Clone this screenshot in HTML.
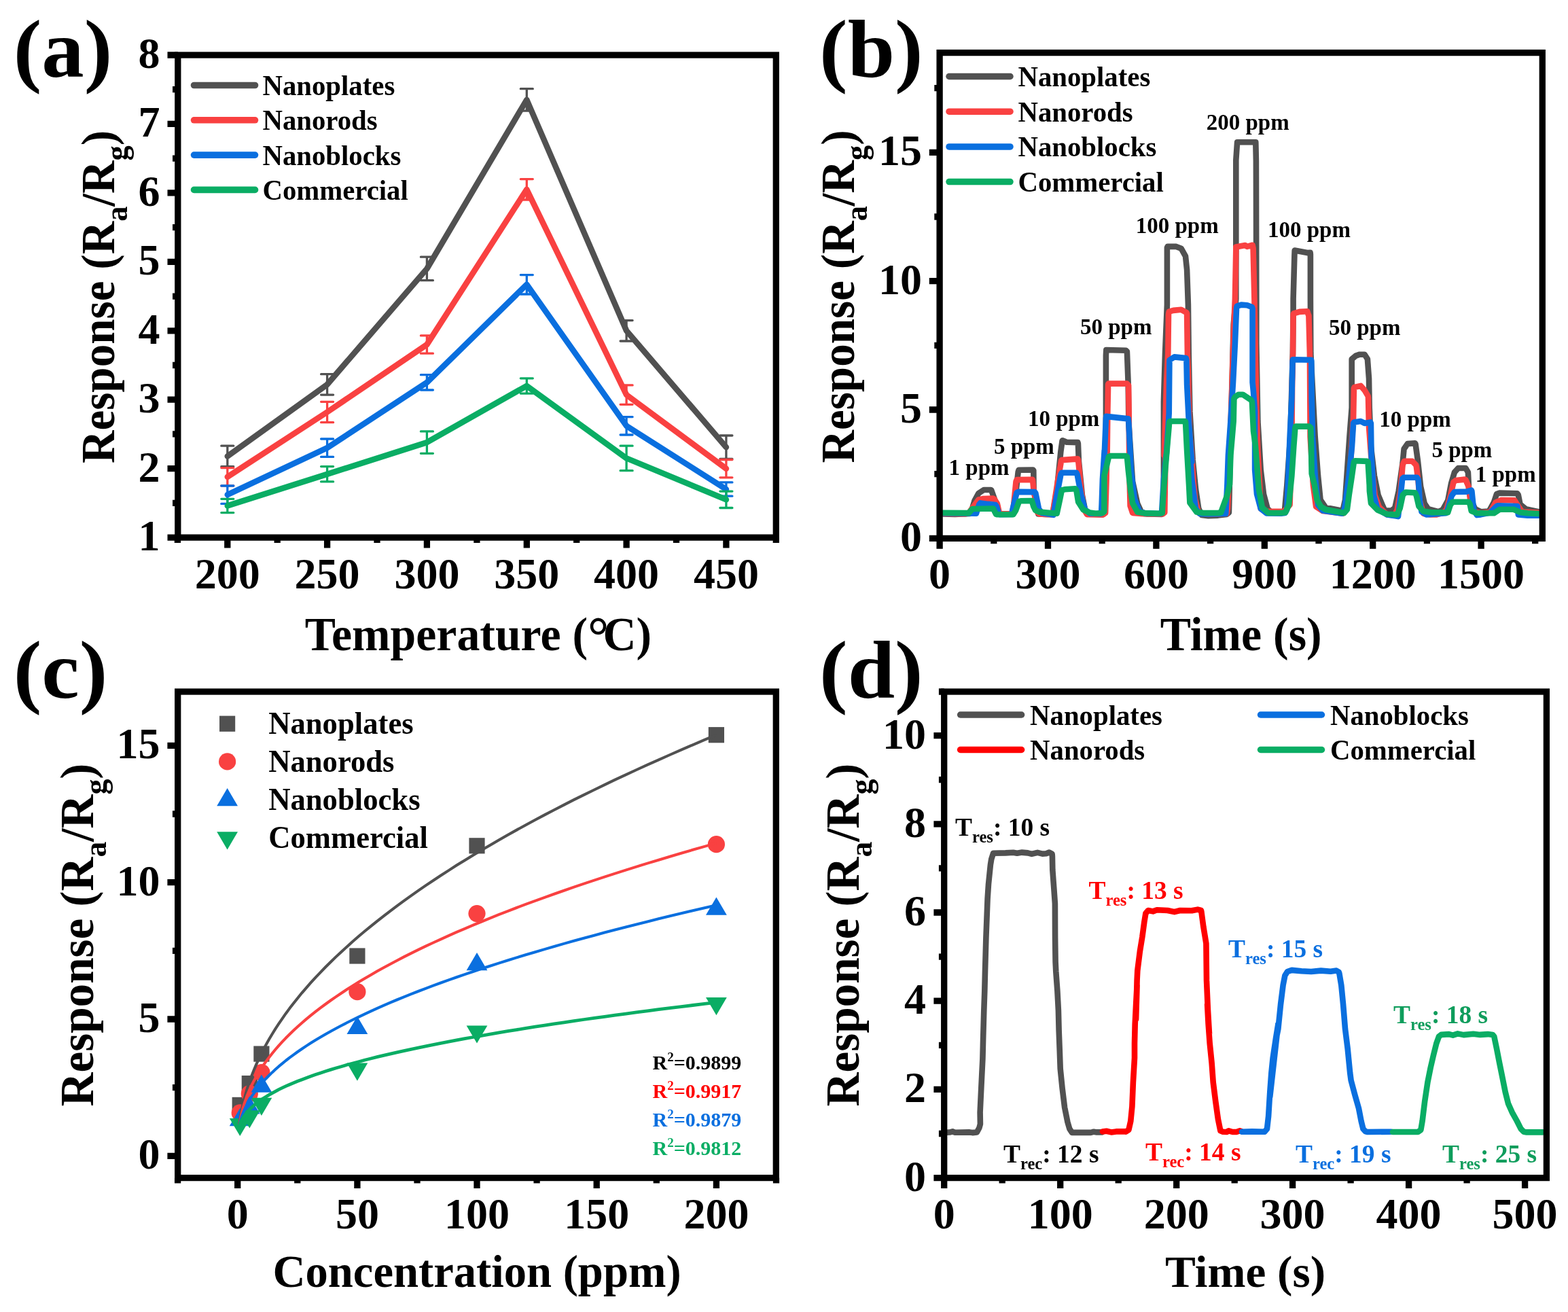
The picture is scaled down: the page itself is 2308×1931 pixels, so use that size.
<!DOCTYPE html>
<html lang="en"><head><meta charset="utf-8"><title>Gas sensing response figure</title>
<style>
html,body{margin:0;padding:0;background:#fff;overflow:hidden}
svg{display:block;font-family:"Liberation Serif","Times New Roman",serif;font-weight:bold}
</style></head>
<body>
<svg width="2308" height="1931" viewBox="0 0 2308 1931">
<rect width="2308" height="1931" fill="#fff"/>
<g id="panel-a">
<path d="M334.8 671.4 L481.6 565.9 L628.4 395.5 L775.3 146.9 L922.1 486.8 L1068.9 658.2" stroke="#515151" stroke-width="8.6" fill="none" stroke-linejoin="round" stroke-linecap="round"/>
<path d="M334.8 656.2V686.6M325.8 656.2H343.8M325.8 686.6H343.8M481.6 550.7V581.1M472.6 550.7H490.6M472.6 581.1H490.6M628.4 378.2V412.7M619.4 378.2H637.4M619.4 412.7H637.4M775.3 130.7V163.2M766.3 130.7H784.3M766.3 163.2H784.3M922.1 471.6V502M913.1 471.6H931.1M913.1 502H931.1M1068.9 641V675.5M1059.9 641H1077.9M1059.9 675.5H1077.9" stroke="#515151" stroke-width="3.3" fill="none" stroke-linecap="round"/>
<path d="M334.8 701.8 L481.6 606.5 L628.4 507.1 L775.3 278.8 L922.1 581.1 L1068.9 689.7" stroke="#F94141" stroke-width="8.6" fill="none" stroke-linejoin="round" stroke-linecap="round"/>
<path d="M334.8 688.6V715M325.8 688.6H343.8M325.8 715H343.8M481.6 591.3V621.7M472.6 591.3H490.6M472.6 621.7H490.6M628.4 493.9V520.2M619.4 493.9H637.4M619.4 520.2H637.4M775.3 263.6V294M766.3 263.6H784.3M766.3 294H784.3M922.1 566.9V595.3M913.1 566.9H931.1M913.1 595.3H931.1M1068.9 676.5V702.8M1059.9 676.5H1077.9M1059.9 702.8H1077.9" stroke="#F94141" stroke-width="3.3" fill="none" stroke-linecap="round"/>
<path d="M334.8 728.2 L481.6 659.2 L628.4 562.9 L775.3 418.8 L922.1 626.8 L1068.9 720.1" stroke="#0A6FDF" stroke-width="8.6" fill="none" stroke-linejoin="round" stroke-linecap="round"/>
<path d="M334.8 715V741.4M325.8 715H343.8M325.8 741.4H343.8M481.6 646V672.4M472.6 646H490.6M472.6 672.4H490.6M628.4 551.7V574M619.4 551.7H637.4M619.4 574H637.4M775.3 404.6V433M766.3 404.6H784.3M766.3 433H784.3M922.1 613.6V640M913.1 613.6H931.1M913.1 640H931.1M1068.9 709.9V730.2M1059.9 709.9H1077.9M1059.9 730.2H1077.9" stroke="#0A6FDF" stroke-width="3.3" fill="none" stroke-linecap="round"/>
<path d="M334.8 744.4 L481.6 697.8 L628.4 651.1 L775.3 567.9 L922.1 674.4 L1068.9 735.3" stroke="#0AAD64" stroke-width="8.6" fill="none" stroke-linejoin="round" stroke-linecap="round"/>
<path d="M334.8 734.3V754.6M325.8 734.3H343.8M325.8 754.6H343.8M481.6 686.6V708.9M472.6 686.6H490.6M472.6 708.9H490.6M628.4 634.9V667.3M619.4 634.9H637.4M619.4 667.3H637.4M775.3 556.8V579.1M766.3 556.8H784.3M766.3 579.1H784.3M922.1 656.2V692.7M913.1 656.2H931.1M913.1 692.7H931.1M1068.9 723.1V747.5M1059.9 723.1H1077.9M1059.9 747.5H1077.9" stroke="#0AAD64" stroke-width="3.3" fill="none" stroke-linecap="round"/>
<rect x="261.8" y="81" width="880.5" height="710.1" fill="none" stroke="#000" stroke-width="9.3"/>
<path d="M334.8 791.1V806.4M481.6 791.1V806.4M628.4 791.1V806.4M775.3 791.1V806.4M922.1 791.1V806.4M1068.9 791.1V806.4" stroke="#000" stroke-width="9.3" fill="none"/>
<path d="M261.4 791.1V798.9M408.2 791.1V798.9M555 791.1V798.9M701.9 791.1V798.9M848.7 791.1V798.9M995.5 791.1V798.9M1142.3 791.1V798.9" stroke="#000" stroke-width="9.3" fill="none"/>
<path d="M261.8 791.1H246.5M261.8 689.7H246.5M261.8 588.2H246.5M261.8 486.8H246.5M261.8 385.3H246.5M261.8 283.9H246.5M261.8 182.4H246.5M261.8 81H246.5" stroke="#000" stroke-width="9.3" fill="none"/>
<path d="M261.8 740.4H254M261.8 638.9H254M261.8 537.5H254M261.8 436.1H254M261.8 334.6H254M261.8 233.2H254M261.8 131.7H254" stroke="#000" stroke-width="9.3" fill="none"/>
<text x="334.8" y="866" font-size="64" text-anchor="middle" fill="#000">200</text>
<text x="481.6" y="866" font-size="64" text-anchor="middle" fill="#000">250</text>
<text x="628.4" y="866" font-size="64" text-anchor="middle" fill="#000">300</text>
<text x="775.3" y="866" font-size="64" text-anchor="middle" fill="#000">350</text>
<text x="922.1" y="866" font-size="64" text-anchor="middle" fill="#000">400</text>
<text x="1068.9" y="866" font-size="64" text-anchor="middle" fill="#000">450</text>
<text x="235.5" y="810.1" font-size="64" text-anchor="end" fill="#000">1</text>
<text x="235.5" y="708.7" font-size="64" text-anchor="end" fill="#000">2</text>
<text x="235.5" y="607.2" font-size="64" text-anchor="end" fill="#000">3</text>
<text x="235.5" y="505.8" font-size="64" text-anchor="end" fill="#000">4</text>
<text x="235.5" y="404.3" font-size="64" text-anchor="end" fill="#000">5</text>
<text x="235.5" y="302.9" font-size="64" text-anchor="end" fill="#000">6</text>
<text x="235.5" y="201.4" font-size="64" text-anchor="end" fill="#000">7</text>
<text x="235.5" y="100" font-size="64" text-anchor="end" fill="#000">8</text>
<text transform="translate(704 957) scale(0.976 1)" font-size="69.5" text-anchor="middle" fill="#000">Temperature (<tspan font-size="80" dy="6">°</tspan><tspan dy="-6" dx="-9">C</tspan>)</text>
<text transform="translate(168 437) rotate(-90) scale(0.96624 1)" font-size="69.5" text-anchor="middle" fill="#000">Response (R<tspan font-size="46" dy="19">a</tspan><tspan dy="-19">/R</tspan><tspan font-size="46" dy="19">g</tspan><tspan dy="-19">)</tspan></text>
<text transform="translate(19.8 113) scale(1.04 1)" font-size="120" text-anchor="start" fill="#000">(a)</text>
<path d="M285.5 125.5 L375.5 125.5" stroke="#515151" stroke-width="9.6" fill="none" stroke-linejoin="round" stroke-linecap="round"/>
<text transform="translate(386.5 140) scale(0.971 1)" font-size="42" text-anchor="start" fill="#000">Nanoplates</text>
<path d="M285.5 176.8 L375.5 176.8" stroke="#F94141" stroke-width="9.6" fill="none" stroke-linejoin="round" stroke-linecap="round"/>
<text transform="translate(386.5 191.3) scale(0.971 1)" font-size="42" text-anchor="start" fill="#000">Nanorods</text>
<path d="M285.5 228.1 L375.5 228.1" stroke="#0A6FDF" stroke-width="9.6" fill="none" stroke-linejoin="round" stroke-linecap="round"/>
<text transform="translate(386.5 242.6) scale(0.971 1)" font-size="42" text-anchor="start" fill="#000">Nanoblocks</text>
<path d="M285.5 279.4 L375.5 279.4" stroke="#0AAD64" stroke-width="9.6" fill="none" stroke-linejoin="round" stroke-linecap="round"/>
<text transform="translate(386.5 293.9) scale(0.971 1)" font-size="42" text-anchor="start" fill="#000">Commercial</text>
</g>
<g id="panel-b">
<path d="M1388.1 756.4 L1405.7 756.9 L1427.6 756 L1429.3 754.3 L1434.4 737.1 L1440.4 726 L1448.1 721 L1458.4 721 L1459.3 721.7 L1463.6 733.7 L1468.7 750 L1470.4 756.4 L1488.9 756.7 L1490.6 756.4 L1494.9 728.6 L1498.7 694.3 L1499.6 691.7 L1520.6 691.5 L1521.3 692.6 L1521.6 720 L1525.7 745.7 L1528.3 756.4 L1538.6 756.9 L1549.3 757.1 L1555.7 721.4 L1561.4 664.3 L1563.6 648.6 L1564 648.3 L1570 650.7 L1586.4 651.1 L1586.9 652.9 L1587.9 678.6 L1592.9 728.6 L1597.1 750 L1601.4 756.4 L1622.9 757.4 L1626.4 755 L1627.4 705.7 L1627.9 662.9 L1627.9 608.6 L1627.9 522.9 L1628.3 515 L1657.1 515.7 L1658.9 517.4 L1660.7 565.7 L1661.4 622.9 L1667.1 708.6 L1674.3 741.4 L1680 753.6 L1688.6 756.4 L1710 756.9 L1712.1 754.3 L1712.9 720 L1712.9 591.4 L1715 520 L1717.9 448.6 L1717.9 440 L1717.9 364.3 L1718.6 362.9 L1731.4 362.9 L1738.6 365.7 L1745 377.1 L1747.1 397.1 L1748.6 440 L1748.9 448.6 L1749.7 520 L1751.4 605.7 L1755.7 677.1 L1760 720 L1764.3 748.6 L1768.6 757.9 L1778.6 759.3 L1792.9 758.6 L1805.7 756.9 L1808.9 754.3 L1810 705.7 L1815.7 477.1 L1819.3 440 L1819.3 235.7 L1821.1 209.3 L1848.3 209.3 L1848.9 237.1 L1849.3 440 L1849.3 505.7 L1851.4 620 L1855.7 691.4 L1860 727.1 L1865.7 748.6 L1871.4 754.3 L1888.6 753.6 L1891.1 750 L1894.3 714.3 L1899.3 642.9 L1902.9 520 L1903.6 455.7 L1903.6 440 L1905.4 375.7 L1905.7 368.6 L1924.3 372.1 L1928.6 371.7 L1928.9 374.3 L1928.9 440 L1929.3 520 L1935.7 642.9 L1940 700 L1943.6 735.7 L1951.4 747.1 L1974.3 751.4 L1977.1 748.6 L1980 735.7 L1986.4 642.9 L1989.7 600 L1989.7 528.6 L1995.7 523.6 L2001.4 521.7 L2008.6 521.7 L2012.9 528.6 L2015 557.1 L2015.7 600 L2017.9 657.1 L2022.9 700 L2028.6 728.6 L2035.7 745.7 L2038.7 751.9 L2048.3 751.2 L2053.2 747.7 L2058.7 722.9 L2064.6 681.4 L2066.6 660.7 L2071.8 653.1 L2082.9 652.2 L2083.6 653.8 L2087 678.7 L2091.1 716 L2096.7 740.8 L2102.2 749.1 L2117.4 753.2 L2122.9 750.5 L2124.3 749.1 L2131.2 736.7 L2136 711.8 L2140.9 695.2 L2146.4 689 L2157.4 689 L2160.9 695.2 L2162.3 722.9 L2165.7 736.7 L2171.2 749.1 L2179.5 753.2 L2190.6 752.6 L2192 751.9 L2198.9 739.4 L2203 727 L2207.2 725.6 L2233.4 726.3 L2234.8 728.4 L2237.5 742.2 L2245.8 749.1 L2264.5 753.2" stroke="#515151" stroke-width="8.6" fill="none" stroke-linejoin="round" stroke-linecap="round"/>
<path d="M1388.1 755.8 L1421.1 756.4 L1425.9 755.1 L1432.7 745.7 L1440.4 735.4 L1446.4 734.1 L1461.9 733.5 L1463.6 734.6 L1467.9 741.4 L1470.4 752.6 L1471.3 756.4 L1489.3 756.4 L1491.9 745.7 L1495.5 708.9 L1496.6 706.1 L1519.7 705.9 L1520.1 706.7 L1521.4 720 L1525.7 745.7 L1527.4 754.3 L1530 756.4 L1538.6 756.9 L1549.3 757.1 L1557.1 707.1 L1562.1 677.9 L1562.9 677.1 L1586.4 675.4 L1587.1 677.1 L1591.4 721.4 L1595.7 750 L1600 757.1 L1623.6 757.4 L1627.1 755 L1628.6 705.7 L1629.3 662.9 L1629.7 665.7 L1630.3 608.6 L1631.1 565.7 L1631.7 564.6 L1658.6 564.6 L1661.1 567.1 L1661.7 608.6 L1662.1 665.7 L1662.6 705.7 L1663.6 744.3 L1667.1 755 L1685.7 756.4 L1711.4 756.4 L1714.3 754.3 L1715 705.7 L1715.4 662.9 L1713.6 670 L1717.1 562.9 L1719.3 520 L1720 462.9 L1720.7 458.6 L1727.1 456.9 L1738.6 455.7 L1746.4 460 L1747.1 461.4 L1747.9 520 L1749.3 562.9 L1750.7 634.3 L1753.6 662.9 L1756.4 705.7 L1758.9 734.3 L1764.3 755 L1778.6 756.4 L1805.7 756 L1807.1 748.6 L1813.6 562.9 L1815.7 491.4 L1817.9 440 L1819.3 368.6 L1819.3 363.6 L1832.9 361.1 L1835.7 362.9 L1843.6 360.7 L1844.6 365.7 L1846.4 440 L1847.9 520 L1850 620 L1851.4 662.9 L1853.6 705.7 L1855.7 748.6 L1864.3 752.9 L1890 752.9 L1898.6 742.9 L1901.4 642.9 L1902.1 562.9 L1903.1 520 L1903.6 462.9 L1904.3 461.4 L1912.9 458.9 L1924.3 458.3 L1925.7 462.9 L1926.4 464.3 L1927.9 520 L1928.6 642.9 L1932.9 714.3 L1937.1 745.7 L1947.1 752.1 L1977.1 755.7 L1981.4 750 L1984.3 728.6 L1988.6 671.4 L1992.1 614.3 L1992.9 571.4 L1993.6 570 L2002.9 567.9 L2008.6 574.3 L2013.6 582.9 L2014 585.7 L2015 628.6 L2019.3 685.7 L2023.6 728.6 L2030 746.4 L2041.4 757.4 L2052.5 758.1 L2056.6 750.5 L2061.5 722.9 L2064.6 684.2 L2067 678.7 L2078.7 678.7 L2084.2 684.2 L2084.9 687 L2087.7 709.1 L2089.8 736.7 L2095.3 756 L2105 757.4 L2114.6 757.4 L2124.3 754.6 L2129.1 750.5 L2134.6 731.1 L2139.5 709.7 L2142.9 707 L2156.1 705.6 L2157.4 706.3 L2161.6 716 L2164.3 736.7 L2169.9 753.2 L2179.5 755.3 L2193.3 753.9 L2194.7 751.9 L2201.6 739.4 L2209.9 736 L2229.3 736.4 L2234.8 745 L2240.3 753.2 L2264.5 754.6" stroke="#F94141" stroke-width="8.6" fill="none" stroke-linejoin="round" stroke-linecap="round"/>
<path d="M1388.1 755.3 L1437 755.6 L1441.3 742.3 L1443 740.4 L1454.1 741.9 L1465.3 743 L1467 745.7 L1470.4 756.9 L1472.1 757.3 L1488.9 757 L1491.4 745.7 L1496.6 725.1 L1499.1 723.9 L1523.1 724.1 L1524.4 726 L1529.1 749.1 L1533.4 755.1 L1542.9 756.4 L1550.7 757.9 L1554.3 735.7 L1561.4 698.6 L1562.9 695.7 L1584.3 695.7 L1585.7 698.6 L1591.4 728.6 L1597.1 750 L1604.3 755.7 L1620 756 L1621.1 755 L1621.7 741.4 L1622.9 705.7 L1625.7 662.9 L1624.6 694.3 L1627.9 615.7 L1628.3 612.9 L1660.7 616.4 L1661.4 622.9 L1665 694.3 L1666.4 705.7 L1670 734.3 L1677.1 752.9 L1685.7 755.4 L1705.7 756 L1710 755 L1712.9 705.7 L1717.1 665.7 L1720.7 608.6 L1721.4 530 L1728.6 525.4 L1745.7 527.1 L1746.4 529.3 L1747.1 565.7 L1750 622.9 L1754.3 680 L1751.4 662.9 L1754.3 705.7 L1760 748.6 L1765.7 756 L1778.6 756.4 L1804.3 756 L1806.4 712.9 L1807.9 670 L1811.4 620 L1815 562.9 L1817.9 505.7 L1820 454.3 L1820.7 450.7 L1827.1 448.6 L1835.7 449.3 L1842.9 452.1 L1843.6 454.3 L1843.6 562.9 L1845 577.1 L1847.1 605.7 L1847.1 691.4 L1850 727.1 L1855.7 748.6 L1864.3 755.4 L1885.7 755.7 L1891.4 755 L1894.3 750 L1896.4 700 L1898.6 642.9 L1901.4 585.7 L1902.6 531.4 L1903.1 529.3 L1930 529.7 L1930.3 531.4 L1930.7 585.7 L1932.1 642.9 L1935.7 700 L1940 742.9 L1947.1 751.4 L1975.7 755.7 L1978.6 750 L1980 742.9 L1985.7 700 L1990 657.1 L1992.1 622.9 L1992.9 621.4 L2002.9 620 L2008.6 622.9 L2017.1 621.4 L2017.9 623.1 L2018.6 671.4 L2021.4 714.3 L2019.3 681.4 L2022.1 729.8 L2027.6 749.1 L2041.4 757.4 L2055.2 759.5 L2058 760.1 L2060.8 736.7 L2064.2 704.9 L2066.3 702.8 L2085.6 702.8 L2087.7 706.3 L2089.8 736.7 L2092.5 753.2 L2099.4 757.4 L2128.4 755.3 L2129.8 753.2 L2136.7 729.8 L2140.9 724 L2158.8 723.6 L2165.7 721.5 L2166.4 722.9 L2169.2 750.5 L2174 758.1 L2179.5 757.4 L2193.3 754.6 L2203 745 L2204.4 744.3 L2233.4 745 L2233.7 746.3 L2234.8 757.4 L2248.6 758.8 L2264.5 758.8" stroke="#0A6FDF" stroke-width="8.6" fill="none" stroke-linejoin="round" stroke-linecap="round"/>
<path d="M1388.1 754.7 L1425.9 755.1 L1431.4 749 L1461.9 748.5 L1466.1 756.9 L1467.9 757.3 L1491.4 757.3 L1495.3 750.9 L1500 738 L1502.6 737.3 L1518.9 737.1 L1521.4 745.7 L1524 750.9 L1529.1 753.4 L1538.6 754.3 L1555.7 755.7 L1560 735.7 L1562.9 721.4 L1567.1 720.3 L1582.9 719.3 L1584.3 721.4 L1587.1 738.6 L1594.3 750 L1604.3 754.6 L1612.9 755.7 L1622.9 755 L1625.3 752.9 L1625.4 700 L1632.1 672.1 L1634.3 671 L1657.1 671 L1658.9 672.1 L1660.7 691.4 L1663.9 720 L1667.1 740.7 L1674.3 753.6 L1685.7 755.4 L1705.7 755.7 L1710.7 755 L1712.9 720 L1716.4 677.1 L1720.7 627.1 L1721.1 621.4 L1722.1 620 L1744.3 620 L1745 620.7 L1747.1 662.9 L1750 712.9 L1751.4 740 L1761.4 753.6 L1771.4 755 L1792.9 755 L1797.1 754.3 L1806.4 728.6 L1810 712.9 L1811.4 670 L1815.7 620 L1816.4 587.1 L1817.9 584.3 L1822.9 580.7 L1829.3 580.7 L1841.4 588.6 L1842.9 591.4 L1845 634.3 L1847.9 655.7 L1852.9 720 L1857.9 747.1 L1867.1 755 L1885.7 755 L1892.1 754.3 L1897.1 742.9 L1901.4 700 L1904.3 657.1 L1906.4 630 L1907.1 627.6 L1927.1 627.6 L1929.3 629.3 L1930 657.1 L1930.7 697.1 L1935 714.3 L1938.6 735.7 L1944.3 745.7 L1951.4 750 L1978.6 755 L1982.9 750 L1985.7 728.6 L1990 700 L1992.9 680 L1994.3 678.3 L2012.1 678.9 L2013.6 680 L2015.7 714.3 L2015.9 722.9 L2018 740.8 L2027.6 750.5 L2041.4 756.7 L2055.2 757.4 L2056.6 757.4 L2060.8 747.7 L2064.9 728.4 L2069.1 724.5 L2082.9 725.3 L2084.9 729.8 L2088.4 745 L2095.3 752.6 L2107.7 754.3 L2131.2 754.3 L2134.6 743.6 L2138.1 738.7 L2161.6 738.7 L2163.7 742.2 L2165.7 751.9 L2174 755.3 L2193.3 755.3 L2198.9 755.3 L2207.2 749.8 L2227.9 749.8 L2237.5 753.9 L2248.6 755.3 L2264.5 756" stroke="#0AAD64" stroke-width="8.6" fill="none" stroke-linejoin="round" stroke-linecap="round"/>
<rect x="1383.1" y="77.6" width="887.2" height="714.8" fill="none" stroke="#000" stroke-width="9.3"/>
<path d="M1383.1 792.4V807.7M1542.5 792.4V807.7M1701.9 792.4V807.7M1861.3 792.4V807.7M2020.7 792.4V807.7M2180.1 792.4V807.7" stroke="#000" stroke-width="9.3" fill="none"/>
<path d="M1462.8 792.4V800.2M1622.2 792.4V800.2M1781.6 792.4V800.2M1941 792.4V800.2M2100.4 792.4V800.2M2259.7 792.4V800.2" stroke="#000" stroke-width="9.3" fill="none"/>
<path d="M1383.1 792.4H1367.8M1383.1 603H1367.8M1383.1 413.7H1367.8M1383.1 224.4H1367.8" stroke="#000" stroke-width="9.3" fill="none"/>
<path d="M1383.1 697.7H1375.3M1383.1 508.4H1375.3M1383.1 319H1375.3M1383.1 129.7H1375.3" stroke="#000" stroke-width="9.3" fill="none"/>
<text x="1383.1" y="866" font-size="64" text-anchor="middle" fill="#000">0</text>
<text x="1542.5" y="866" font-size="64" text-anchor="middle" fill="#000">300</text>
<text x="1701.9" y="866" font-size="64" text-anchor="middle" fill="#000">600</text>
<text x="1861.3" y="866" font-size="64" text-anchor="middle" fill="#000">900</text>
<text x="2020.7" y="866" font-size="64" text-anchor="middle" fill="#000">1200</text>
<text x="2180.1" y="866" font-size="64" text-anchor="middle" fill="#000">1500</text>
<text x="1357" y="811.4" font-size="64" text-anchor="end" fill="#000">0</text>
<text x="1357" y="622" font-size="64" text-anchor="end" fill="#000">5</text>
<text x="1357" y="432.7" font-size="64" text-anchor="end" fill="#000">10</text>
<text x="1357" y="243.4" font-size="64" text-anchor="end" fill="#000">15</text>
<text transform="translate(1826.7 957) scale(0.976 1)" font-size="69.5" text-anchor="middle" fill="#000">Time (s)</text>
<text transform="translate(1257 436.5) rotate(-90) scale(0.96624 1)" font-size="69.5" text-anchor="middle" fill="#000">Response (R<tspan font-size="46" dy="19">a</tspan><tspan dy="-19">/R</tspan><tspan font-size="46" dy="19">g</tspan><tspan dy="-19">)</tspan></text>
<text transform="translate(1206.1 113) scale(1.04 1)" font-size="120" text-anchor="start" fill="#000">(b)</text>
<path d="M1397 112.5 L1487 112.5" stroke="#515151" stroke-width="9.5" fill="none" stroke-linejoin="round" stroke-linecap="round"/>
<text transform="translate(1498.5 127) scale(0.971 1)" font-size="42" text-anchor="start" fill="#000">Nanoplates</text>
<path d="M1397 164.2 L1487 164.2" stroke="#F94141" stroke-width="9.5" fill="none" stroke-linejoin="round" stroke-linecap="round"/>
<text transform="translate(1498.5 178.7) scale(0.971 1)" font-size="42" text-anchor="start" fill="#000">Nanorods</text>
<path d="M1397 215.9 L1487 215.9" stroke="#0A6FDF" stroke-width="9.5" fill="none" stroke-linejoin="round" stroke-linecap="round"/>
<text transform="translate(1498.5 230.4) scale(0.971 1)" font-size="42" text-anchor="start" fill="#000">Nanoblocks</text>
<path d="M1397 267.6 L1487 267.6" stroke="#0AAD64" stroke-width="9.5" fill="none" stroke-linejoin="round" stroke-linecap="round"/>
<text transform="translate(1498.5 282.1) scale(0.971 1)" font-size="42" text-anchor="start" fill="#000">Commercial</text>
<text x="1396.6" y="698.6" font-size="33" text-anchor="start" fill="#000">1 ppm</text>
<text x="1462.9" y="667.7" font-size="33" text-anchor="start" fill="#000">5 ppm</text>
<text x="1512.9" y="627.1" font-size="33" text-anchor="start" fill="#000">10 ppm</text>
<text x="1590" y="492.3" font-size="33" text-anchor="start" fill="#000">50 ppm</text>
<text x="1671.7" y="342.9" font-size="33" text-anchor="start" fill="#000">100 ppm</text>
<text x="1775.7" y="190.6" font-size="33" text-anchor="start" fill="#000">200 ppm</text>
<text x="1866" y="349.1" font-size="33" text-anchor="start" fill="#000">100 ppm</text>
<text x="1956" y="493.4" font-size="33" text-anchor="start" fill="#000">50 ppm</text>
<text x="2030.3" y="627.7" font-size="33" text-anchor="start" fill="#000">10 ppm</text>
<text x="2107.4" y="672.9" font-size="33" text-anchor="start" fill="#000">5 ppm</text>
<text x="2171.7" y="708.6" font-size="33" text-anchor="start" fill="#000">1 ppm</text>
</g>
<g id="panel-c">
<rect x="341.6" y="1614.8" width="23.2" height="23.2" fill="#515151"/>
<rect x="355.7" y="1583" width="23.2" height="23.2" fill="#515151"/>
<rect x="373.3" y="1539.5" width="23.2" height="23.2" fill="#515151"/>
<rect x="514.3" y="1395.4" width="23.2" height="23.2" fill="#515151"/>
<rect x="690.4" y="1233.2" width="23.2" height="23.2" fill="#515151"/>
<rect x="1042.8" y="1070.1" width="23.2" height="23.2" fill="#515151"/>
<circle cx="353.2" cy="1637.9" r="12.6" fill="#F94141"/>
<circle cx="367.3" cy="1609.7" r="12.6" fill="#F94141"/>
<circle cx="384.9" cy="1578.5" r="12.6" fill="#F94141"/>
<circle cx="525.9" cy="1459.7" r="12.6" fill="#F94141"/>
<circle cx="702" cy="1344.6" r="12.6" fill="#F94141"/>
<circle cx="1054.4" cy="1242.7" r="12.6" fill="#F94141"/>
<path d="M353.2 1631L368.6 1657.2H337.8Z" fill="#0A6FDF"/>
<path d="M367.3 1613.3L382.7 1639.5H351.9Z" fill="#0A6FDF"/>
<path d="M384.9 1581.5L400.3 1607.7H369.5Z" fill="#0A6FDF"/>
<path d="M525.9 1495.8L541.3 1522H510.5Z" fill="#0A6FDF"/>
<path d="M702 1402L717.4 1428.2H686.6Z" fill="#0A6FDF"/>
<path d="M1054.4 1320.6L1069.8 1346.8H1039Z" fill="#0A6FDF"/>
<path d="M353.2 1672.1L368.6 1645.9H337.8Z" fill="#0AAD64"/>
<path d="M367.3 1660.5L382.7 1634.3H351.9Z" fill="#0AAD64"/>
<path d="M384.9 1641.9L400.3 1615.7H369.5Z" fill="#0AAD64"/>
<path d="M525.9 1590.8L541.3 1564.6H510.5Z" fill="#0AAD64"/>
<path d="M702 1535.6L717.4 1509.4H686.6Z" fill="#0AAD64"/>
<path d="M1054.4 1494.2L1069.8 1468H1039Z" fill="#0AAD64"/>
<path d="M352.2 1656 L352.3 1655.2 L352.6 1652.7 L353.2 1648.8 L353.9 1643.9 L354.9 1638.3 L356.1 1632.1 L357.5 1625.6 L359.2 1618.7 L361.1 1611.7 L363.1 1604.5 L365.4 1597.2 L368 1589.9 L370.7 1582.4 L373.7 1575 L376.9 1567.4 L380.3 1559.9 L383.9 1552.4 L387.7 1544.8 L391.8 1537.2 L396.1 1529.6 L400.6 1522 L405.3 1514.4 L410.2 1506.9 L415.4 1499.3 L420.7 1491.7 L426.3 1484.1 L432.2 1476.5 L438.2 1468.9 L444.4 1461.3 L450.9 1453.8 L457.6 1446.2 L464.5 1438.6 L471.7 1431.1 L479 1423.5 L486.6 1416 L494.4 1408.4 L502.4 1400.9 L510.6 1393.4 L519.1 1385.8 L527.7 1378.3 L536.6 1370.8 L545.7 1363.3 L555 1355.8 L564.6 1348.3 L574.4 1340.8 L584.3 1333.3 L594.5 1325.8 L605 1318.4 L615.6 1310.9 L626.5 1303.4 L637.6 1296 L648.9 1288.5 L660.4 1281.1 L672.1 1273.6 L684.1 1266.2 L696.3 1258.7 L708.7 1251.3 L721.3 1243.9 L734.1 1236.5 L747.2 1229 L760.4 1221.6 L773.9 1214.2 L787.7 1206.8 L801.6 1199.4 L815.8 1192 L830.1 1184.6 L844.7 1177.2 L859.5 1169.9 L874.6 1162.5 L889.8 1155.1 L905.3 1147.7 L921 1140.4 L936.9 1133 L953 1125.7 L969.4 1118.3 L985.9 1111 L1002.7 1103.6 L1019.7 1096.3 L1037 1088.9 L1054.4 1081.6" stroke="#515151" stroke-width="4.1" fill="none" stroke-linejoin="round" stroke-linecap="butt"/>
<path d="M352.2 1656.4 L352.3 1655.7 L352.6 1653.6 L353.2 1650.3 L353.9 1646.2 L354.9 1641.5 L356.1 1636.4 L357.5 1631.1 L359.2 1625.5 L361.1 1619.8 L363.1 1614.1 L365.4 1608.3 L368 1602.5 L370.7 1596.7 L373.7 1590.9 L376.9 1585.1 L380.3 1579.3 L383.9 1573.5 L387.7 1567.7 L391.8 1561.9 L396.1 1556.2 L400.6 1550.5 L405.3 1544.8 L410.2 1539.1 L415.4 1533.4 L420.7 1527.8 L426.3 1522.2 L432.2 1516.6 L438.2 1511 L444.4 1505.5 L450.9 1499.9 L457.6 1494.4 L464.5 1488.9 L471.7 1483.4 L479 1478 L486.6 1472.5 L494.4 1467.1 L502.4 1461.7 L510.6 1456.3 L519.1 1450.9 L527.7 1445.6 L536.6 1440.2 L545.7 1434.9 L555 1429.5 L564.6 1424.2 L574.4 1419 L584.3 1413.7 L594.5 1408.4 L605 1403.2 L615.6 1397.9 L626.5 1392.7 L637.6 1387.5 L648.9 1382.3 L660.4 1377.1 L672.1 1371.9 L684.1 1366.8 L696.3 1361.6 L708.7 1356.5 L721.3 1351.3 L734.1 1346.2 L747.2 1341.1 L760.4 1336 L773.9 1330.9 L787.7 1325.9 L801.6 1320.8 L815.8 1315.7 L830.1 1310.7 L844.7 1305.6 L859.5 1300.6 L874.6 1295.6 L889.8 1290.6 L905.3 1285.6 L921 1280.6 L936.9 1275.6 L953 1270.6 L969.4 1265.7 L985.9 1260.7 L1002.7 1255.7 L1019.7 1250.8 L1037 1245.9 L1054.4 1240.9" stroke="#F94141" stroke-width="4.1" fill="none" stroke-linejoin="round" stroke-linecap="butt"/>
<path d="M352.2 1657.1 L352.3 1656.6 L352.6 1655.1 L353.2 1652.8 L353.9 1649.8 L354.9 1646.5 L356.1 1642.8 L357.5 1638.9 L359.2 1634.8 L361.1 1630.6 L363.1 1626.4 L365.4 1622.1 L368 1617.8 L370.7 1613.4 L373.7 1609.1 L376.9 1604.7 L380.3 1600.3 L383.9 1595.9 L387.7 1591.6 L391.8 1587.2 L396.1 1582.8 L400.6 1578.4 L405.3 1574.1 L410.2 1569.7 L415.4 1565.4 L420.7 1561 L426.3 1556.7 L432.2 1552.4 L438.2 1548 L444.4 1543.7 L450.9 1539.4 L457.6 1535.1 L464.5 1530.8 L471.7 1526.6 L479 1522.3 L486.6 1518 L494.4 1513.8 L502.4 1509.5 L510.6 1505.3 L519.1 1501 L527.7 1496.8 L536.6 1492.6 L545.7 1488.3 L555 1484.1 L564.6 1479.9 L574.4 1475.7 L584.3 1471.5 L594.5 1467.4 L605 1463.2 L615.6 1459 L626.5 1454.8 L637.6 1450.7 L648.9 1446.5 L660.4 1442.4 L672.1 1438.2 L684.1 1434.1 L696.3 1430 L708.7 1425.8 L721.3 1421.7 L734.1 1417.6 L747.2 1413.5 L760.4 1409.4 L773.9 1405.3 L787.7 1401.2 L801.6 1397.1 L815.8 1393 L830.1 1388.9 L844.7 1384.8 L859.5 1380.7 L874.6 1376.7 L889.8 1372.6 L905.3 1368.5 L921 1364.5 L936.9 1360.4 L953 1356.4 L969.4 1352.3 L985.9 1348.3 L1002.7 1344.3 L1019.7 1340.2 L1037 1336.2 L1054.4 1332.2" stroke="#0A6FDF" stroke-width="4.1" fill="none" stroke-linejoin="round" stroke-linecap="butt"/>
<path d="M352.2 1657.5 L352.3 1657.2 L352.6 1656.1 L353.2 1654.6 L353.9 1652.6 L354.9 1650.4 L356.1 1648 L357.5 1645.5 L359.2 1642.9 L361.1 1640.3 L363.1 1637.7 L365.4 1635 L368 1632.3 L370.7 1629.7 L373.7 1627 L376.9 1624.4 L380.3 1621.8 L383.9 1619.1 L387.7 1616.5 L391.8 1614 L396.1 1611.4 L400.6 1608.8 L405.3 1606.3 L410.2 1603.7 L415.4 1601.2 L420.7 1598.7 L426.3 1596.2 L432.2 1593.8 L438.2 1591.3 L444.4 1588.9 L450.9 1586.4 L457.6 1584 L464.5 1581.6 L471.7 1579.2 L479 1576.8 L486.6 1574.4 L494.4 1572 L502.4 1569.7 L510.6 1567.3 L519.1 1565 L527.7 1562.7 L536.6 1560.3 L545.7 1558 L555 1555.7 L564.6 1553.4 L574.4 1551.1 L584.3 1548.9 L594.5 1546.6 L605 1544.3 L615.6 1542.1 L626.5 1539.8 L637.6 1537.6 L648.9 1535.4 L660.4 1533.1 L672.1 1530.9 L684.1 1528.7 L696.3 1526.5 L708.7 1524.3 L721.3 1522.1 L734.1 1519.9 L747.2 1517.7 L760.4 1515.6 L773.9 1513.4 L787.7 1511.2 L801.6 1509.1 L815.8 1506.9 L830.1 1504.8 L844.7 1502.7 L859.5 1500.5 L874.6 1498.4 L889.8 1496.3 L905.3 1494.2 L921 1492.1 L936.9 1489.9 L953 1487.8 L969.4 1485.7 L985.9 1483.7 L1002.7 1481.6 L1019.7 1479.5 L1037 1477.4 L1054.4 1475.3" stroke="#0AAD64" stroke-width="4.8" fill="none" stroke-linejoin="round" stroke-linecap="butt"/>
<rect x="261.7" y="1018" width="880.6" height="715.6" fill="none" stroke="#000" stroke-width="9.3"/>
<path d="M349.7 1733.6V1748.9M525.9 1733.6V1748.9M702 1733.6V1748.9M878.2 1733.6V1748.9M1054.4 1733.6V1748.9" stroke="#000" stroke-width="9.3" fill="none"/>
<path d="M261.6 1733.6V1741.4M437.8 1733.6V1741.4M614 1733.6V1741.4M790.1 1733.6V1741.4M966.3 1733.6V1741.4M1142.5 1733.6V1741.4" stroke="#000" stroke-width="9.3" fill="none"/>
<path d="M261.7 1701.3H246.4M261.7 1500H246.4M261.7 1298.7H246.4M261.7 1097.4H246.4" stroke="#000" stroke-width="9.3" fill="none"/>
<path d="M261.7 1600.6H253.9M261.7 1399.3H253.9M261.7 1198H253.9" stroke="#000" stroke-width="9.3" fill="none"/>
<text x="349.7" y="1808" font-size="64" text-anchor="middle" fill="#000">0</text>
<text x="525.9" y="1808" font-size="64" text-anchor="middle" fill="#000">50</text>
<text x="702" y="1808" font-size="64" text-anchor="middle" fill="#000">100</text>
<text x="878.2" y="1808" font-size="64" text-anchor="middle" fill="#000">150</text>
<text x="1054.4" y="1808" font-size="64" text-anchor="middle" fill="#000">200</text>
<text x="235.5" y="1720.3" font-size="64" text-anchor="end" fill="#000">0</text>
<text x="235.5" y="1519" font-size="64" text-anchor="end" fill="#000">5</text>
<text x="235.5" y="1317.7" font-size="64" text-anchor="end" fill="#000">10</text>
<text x="235.5" y="1116.4" font-size="64" text-anchor="end" fill="#000">15</text>
<text x="702" y="1893.7" font-size="66.6" text-anchor="middle" fill="#000">Concentration (ppm)</text>
<text transform="translate(137 1376) rotate(-90) scale(0.995 1)" font-size="69.5" text-anchor="middle" fill="#000">Response (R<tspan font-size="46" dy="19">a</tspan><tspan dy="-19">/R</tspan><tspan font-size="46" dy="19">g</tspan><tspan dy="-19">)</tspan></text>
<text transform="translate(19.8 1027) scale(1.04 1)" font-size="120" text-anchor="start" fill="#000">(c)</text>
<rect x="323" y="1053.6" width="23.2" height="23.2" fill="#515151"/>
<text transform="translate(395.2 1080.4) scale(0.971 1)" font-size="46" text-anchor="start" fill="#000">Nanoplates</text>
<circle cx="334.6" cy="1120.9" r="12.6" fill="#F94141"/>
<text transform="translate(395.2 1136.4) scale(0.971 1)" font-size="46" text-anchor="start" fill="#000">Nanorods</text>
<path d="M334.6 1160L350 1186.2H319.2Z" fill="#0A6FDF"/>
<text transform="translate(395.2 1192.4) scale(0.971 1)" font-size="46" text-anchor="start" fill="#000">Nanoblocks</text>
<path d="M334.6 1250.5L350 1224.3H319.2Z" fill="#0AAD64"/>
<text transform="translate(395.2 1248.4) scale(0.971 1)" font-size="46" text-anchor="start" fill="#000">Commercial</text>
<text x="960.5" y="1574" font-size="30" text-anchor="start" fill="#000">R<tspan font-size="19" dy="-12">2</tspan><tspan dy="12">=0.9899</tspan></text>
<text x="960.5" y="1616" font-size="30" text-anchor="start" fill="#FF0000">R<tspan font-size="19" dy="-12">2</tspan><tspan dy="12">=0.9917</tspan></text>
<text x="960.5" y="1658" font-size="30" text-anchor="start" fill="#0A6FDF">R<tspan font-size="19" dy="-12">2</tspan><tspan dy="12">=0.9879</tspan></text>
<text x="960.5" y="1700" font-size="30" text-anchor="start" fill="#0AAD64">R<tspan font-size="19" dy="-12">2</tspan><tspan dy="12">=0.9812</tspan></text>
</g>
<g id="panel-d">
<path d="M1394.3 1666.7 L1398.6 1666.4 L1402.1 1665.4 L1405.7 1666.7 L1427.1 1666.4 L1431.4 1667.1 L1437.9 1666.4 L1441.4 1660 L1442.9 1654.3 L1442.6 1637.1 L1444.3 1601.4 L1446.4 1558.6 L1447.1 1530 L1448.3 1487.1 L1449.3 1458.6 L1450 1430 L1451.4 1380 L1453.6 1322.9 L1455 1301.4 L1457.9 1272.9 L1459.3 1264.3 L1462.1 1255.7 L1480 1255.4 L1491.4 1254.7 L1497.1 1255.7 L1504.3 1254.6 L1512.9 1255.4 L1518.6 1256.9 L1527.1 1254.9 L1534.3 1256.6 L1540 1256.3 L1544.3 1254.6 L1548.6 1256.9 L1548.9 1260 L1549.3 1280 L1551.4 1308.6 L1552.9 1330 L1553.1 1380 L1553.6 1415.7 L1554.3 1430 L1556.4 1458.6 L1557.9 1487.1 L1558.6 1515.7 L1559.7 1544.3 L1560.7 1572.9 L1563.6 1601.4 L1567.1 1630 L1571.4 1651.4 L1574.3 1661.4 L1577.9 1666.9 L1605.7 1666.9 L1610 1665.7 L1614.3 1666.4 L1622.1 1666.4" stroke="#515151" stroke-width="8.6" fill="none" stroke-linejoin="round" stroke-linecap="round"/>
<path d="M1622.9 1665.4 L1628.6 1664.7 L1635.7 1666.4 L1642.9 1665.4 L1657.1 1665.4 L1657.1 1665.7 L1661.4 1662.9 L1664.3 1650 L1666.4 1628.6 L1667.9 1592.9 L1670 1557.1 L1670 1535.7 L1670.7 1507.1 L1672.1 1478.6 L1673.6 1450 L1672.1 1500 L1673.6 1442.9 L1674.3 1428.6 L1677.9 1400 L1681.4 1378.6 L1684.3 1357.1 L1686.4 1344.3 L1690 1340 L1697.1 1341.4 L1702.9 1339.3 L1718.6 1340 L1728.6 1342.1 L1737.1 1340 L1754.3 1340.3 L1762.9 1338.6 L1767.9 1340 L1768.3 1341.4 L1771.4 1364.3 L1775.4 1388.6 L1776 1442.9 L1777.9 1485.7 L1780 1521.4 L1777.1 1478.6 L1778.6 1507.1 L1780.7 1535.7 L1783.6 1564.3 L1785.7 1592.9 L1789.3 1621.4 L1792.9 1647.1 L1796.4 1664.3 L1800 1665.7 L1805.7 1666 L1808.6 1664.3 L1814.3 1666 L1820 1666 L1825 1664.3 L1827.1 1665" stroke="#FF0000" stroke-width="8.6" fill="none" stroke-linejoin="round" stroke-linecap="round"/>
<path d="M1827.9 1665.7 L1842.9 1665.4 L1861.4 1665.7 L1865 1661.4 L1867.1 1642.9 L1869.3 1607.1 L1871.4 1578.6 L1873.6 1557.1 L1877.9 1528.6 L1881.4 1507.1 L1869.3 1614.3 L1872.9 1571.4 L1877.1 1535.7 L1881.4 1514.3 L1885 1478.6 L1888.6 1450 L1891.4 1435.7 L1895 1430 L1901.4 1427.9 L1915.7 1429.3 L1930 1430 L1944.3 1428.6 L1958.6 1429.7 L1967.1 1428.6 L1970.7 1430.7 L1971.4 1432.9 L1974.3 1450 L1977.1 1478.6 L1980 1514.3 L1983.6 1542.9 L1987.1 1578.6 L1988.6 1590 L1994.3 1611.4 L2000 1631.4 L2003.6 1650 L2006.4 1661.4 L2010 1665.4 L2012.9 1666 L2047.9 1665.7" stroke="#0A6FDF" stroke-width="8.6" fill="none" stroke-linejoin="round" stroke-linecap="round"/>
<path d="M2050 1666 L2087.1 1666 L2091.4 1662.9 L2093.6 1650 L2097.1 1621.4 L2101.4 1592.9 L2105.7 1571.4 L2110 1552.9 L2114.3 1535.7 L2117.9 1525.7 L2121.4 1522.9 L2132.9 1522.1 L2138.6 1523.6 L2145.7 1521.4 L2154.3 1523.1 L2168.6 1521.7 L2178.6 1522.9 L2190 1522.1 L2197.1 1522.9 L2199.3 1525.7 L2202.9 1542.9 L2207.1 1564.3 L2211.4 1585.7 L2215.7 1607.1 L2220 1624.3 L2225.7 1637.1 L2232.9 1650 L2238.6 1661.4 L2242.9 1665.7 L2247.1 1666.4 L2270.7 1666.4" stroke="#0AAD64" stroke-width="8.6" fill="none" stroke-linejoin="round" stroke-linecap="round"/>
<rect x="1389.7" y="1018" width="886.7" height="715.6" fill="none" stroke="#000" stroke-width="9.3"/>
<path d="M1389.7 1733.6V1748.9M1560.7 1733.6V1748.9M1731.7 1733.6V1748.9M1902.6 1733.6V1748.9M2073.6 1733.6V1748.9M2244.6 1733.6V1748.9" stroke="#000" stroke-width="9.3" fill="none"/>
<path d="M1475.2 1733.6V1741.4M1646.2 1733.6V1741.4M1817.2 1733.6V1741.4M1988.1 1733.6V1741.4M2159.1 1733.6V1741.4" stroke="#000" stroke-width="9.3" fill="none"/>
<path d="M1389.7 1733.6H1374.4M1389.7 1603.4H1374.4M1389.7 1473.2H1374.4M1389.7 1343H1374.4M1389.7 1212.8H1374.4M1389.7 1082.6H1374.4" stroke="#000" stroke-width="9.3" fill="none"/>
<path d="M1389.7 1668.5H1381.9M1389.7 1538.3H1381.9M1389.7 1408.1H1381.9M1389.7 1277.9H1381.9M1389.7 1147.7H1381.9M1389.7 1018H1381.9" stroke="#000" stroke-width="9.3" fill="none"/>
<text x="1389.7" y="1808" font-size="64" text-anchor="middle" fill="#000">0</text>
<text x="1560.7" y="1808" font-size="64" text-anchor="middle" fill="#000">100</text>
<text x="1731.7" y="1808" font-size="64" text-anchor="middle" fill="#000">200</text>
<text x="1902.6" y="1808" font-size="64" text-anchor="middle" fill="#000">300</text>
<text x="2073.6" y="1808" font-size="64" text-anchor="middle" fill="#000">400</text>
<text x="2244.6" y="1808" font-size="64" text-anchor="middle" fill="#000">500</text>
<text x="1363" y="1752.6" font-size="64" text-anchor="end" fill="#000">0</text>
<text x="1363" y="1622.4" font-size="64" text-anchor="end" fill="#000">2</text>
<text x="1363" y="1492.2" font-size="64" text-anchor="end" fill="#000">4</text>
<text x="1363" y="1362" font-size="64" text-anchor="end" fill="#000">6</text>
<text x="1363" y="1231.8" font-size="64" text-anchor="end" fill="#000">8</text>
<text x="1363" y="1101.6" font-size="64" text-anchor="end" fill="#000">10</text>
<text transform="translate(1833.1 1894) scale(1.013 1)" font-size="66.4" text-anchor="middle" fill="#000">Time (s)</text>
<text transform="translate(1264 1376) rotate(-90) scale(0.995 1)" font-size="69.5" text-anchor="middle" fill="#000">Response (R<tspan font-size="46" dy="19">a</tspan><tspan dy="-19">/R</tspan><tspan font-size="46" dy="19">g</tspan><tspan dy="-19">)</tspan></text>
<text transform="translate(1206.1 1027) scale(1.04 1)" font-size="120" text-anchor="start" fill="#000">(d)</text>
<path d="M1413.6 1052 L1503.6 1052" stroke="#515151" stroke-width="9.5" fill="none" stroke-linejoin="round" stroke-linecap="round"/>
<text transform="translate(1516.1 1066.5) scale(0.971 1)" font-size="42" text-anchor="start" fill="#000">Nanoplates</text>
<path d="M1413.6 1103.5 L1503.6 1103.5" stroke="#FF0000" stroke-width="9.5" fill="none" stroke-linejoin="round" stroke-linecap="round"/>
<text transform="translate(1516.1 1118) scale(0.971 1)" font-size="42" text-anchor="start" fill="#000">Nanorods</text>
<path d="M1855.5 1052 L1945.5 1052" stroke="#0A6FDF" stroke-width="9.5" fill="none" stroke-linejoin="round" stroke-linecap="round"/>
<text transform="translate(1958 1066.5) scale(0.971 1)" font-size="42" text-anchor="start" fill="#000">Nanoblocks</text>
<path d="M1855.5 1103.5 L1945.5 1103.5" stroke="#0AAD64" stroke-width="9.5" fill="none" stroke-linejoin="round" stroke-linecap="round"/>
<text transform="translate(1958 1118) scale(0.971 1)" font-size="42" text-anchor="start" fill="#000">Commercial</text>
<text transform="translate(1406 1229.5) scale(0.985 1)" font-size="38" text-anchor="start" fill="#000">T<tspan font-size="25" dy="10">res</tspan><tspan dy="-10">: 10 s</tspan></text>
<text transform="translate(1602.5 1322.5) scale(0.985 1)" font-size="38" text-anchor="start" fill="#FF0000">T<tspan font-size="25" dy="10">res</tspan><tspan dy="-10">: 13 s</tspan></text>
<text transform="translate(1808 1408.5) scale(0.985 1)" font-size="38" text-anchor="start" fill="#0A6FDF">T<tspan font-size="25" dy="10">res</tspan><tspan dy="-10">: 15 s</tspan></text>
<text transform="translate(2051 1505.5) scale(0.985 1)" font-size="38" text-anchor="start" fill="#0F9D5C">T<tspan font-size="25" dy="10">res</tspan><tspan dy="-10">: 18 s</tspan></text>
<text transform="translate(1477 1710.5) scale(0.985 1)" font-size="38" text-anchor="start" fill="#000">T<tspan font-size="25" dy="10">rec</tspan><tspan dy="-10">: 12 s</tspan></text>
<text transform="translate(1686 1707.5) scale(0.985 1)" font-size="38" text-anchor="start" fill="#FF0000">T<tspan font-size="25" dy="10">rec</tspan><tspan dy="-10">: 14 s</tspan></text>
<text transform="translate(1907 1710.5) scale(0.985 1)" font-size="38" text-anchor="start" fill="#0A6FDF">T<tspan font-size="25" dy="10">rec</tspan><tspan dy="-10">: 19 s</tspan></text>
<text transform="translate(2123 1710.5) scale(0.985 1)" font-size="38" text-anchor="start" fill="#0F9D5C">T<tspan font-size="25" dy="10">res</tspan><tspan dy="-10">: 25 s</tspan></text>
</g>
</svg>
</body></html>
